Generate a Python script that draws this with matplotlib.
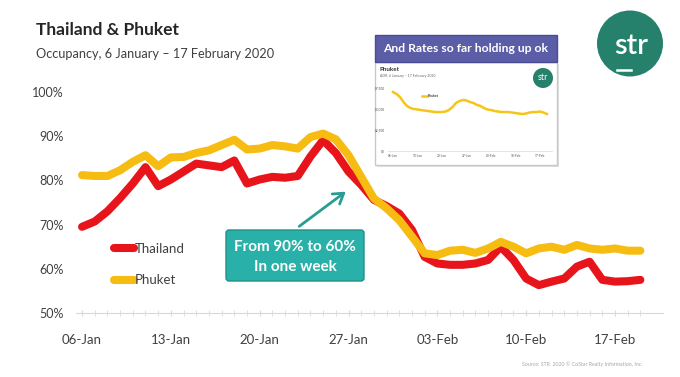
import numpy as np
import matplotlib.pyplot as plt
from matplotlib.patches import Rectangle, Circle, FancyBboxPatch

plt.rcParams['font.family'] = ['Lato', 'DejaVu Sans']

# daily occupancy (%), 6 Jan - 19 Feb 2020
thailand = [69.5, 70.7, 73.0, 76.0, 79.3, 83.0, 78.7, 80.2, 82.0, 83.8,
            83.4, 83.0, 84.5, 79.3, 80.2, 80.8, 80.6, 81.0, 85.4, 89.1,
            86.2, 82.0, 79.0, 75.6, 74.2, 72.5, 68.8, 62.7, 61.2, 60.9,
            60.9, 61.2, 62.0, 65.0, 62.0, 57.8, 56.3, 57.1, 57.8, 60.5,
            61.6, 57.5, 57.1, 57.2, 57.5]
phuket = [81.2, 81.0, 81.0, 82.3, 84.2, 85.7, 83.2, 85.2, 85.3, 86.2,
          86.8, 88.0, 89.2, 87.0, 87.2, 88.0, 87.7, 87.2, 89.8, 90.6,
          89.3, 85.7, 80.8, 75.9, 73.7, 71.0, 67.3, 63.5, 63.1, 64.1,
          64.3, 63.6, 64.6, 66.1, 65.0, 63.5, 64.6, 65.0, 64.3, 65.4,
          64.6, 64.3, 64.6, 64.1, 64.1]
# Phuket ADR shown in the small inset picture
phuket_adr = [7020, 6790, 6430, 5830, 5360, 5120, 5000, 4940, 4880, 4820,
              4760, 4700, 4640, 4640, 4640, 4700, 4880, 5240, 5710, 5950,
              6070, 6010, 5830, 5710, 5480, 5360, 5120, 4940, 4880, 4760,
              4700, 4640, 4640, 4640, 4580, 4520, 4460, 4400, 4460, 4580,
              4640, 4640, 4700, 4580, 4400]
week_pos = [0, 7, 14, 21, 28, 35, 42]
week_labels = ['06-Jan', '13-Jan', '20-Jan', '27-Jan', '03-Feb', '10-Feb', '17-Feb']
y_ticks = [50, 60, 70, 80, 90, 100]
adr_ticks = [0, 2500, 5000, 7500]
adr_labels = ['$0', '$2,500', '$5,000', '$7,500']

W, H = 680, 377
fig = plt.figure(figsize=(W / 100, H / 100), dpi=100)

# pixel-coordinate layer for the slide decorations
deco = fig.add_axes([0, 0, 1, 1], zorder=0)
deco.set_xlim(0, W)
deco.set_ylim(H, 0)
deco.axis('off')

days = np.arange(len(thailand))

ax = fig.add_axes([75.7 / W, 64 / H, 587.5 / W, 221 / H], zorder=2)
ax.patch.set_alpha(0)
ax.plot(days, thailand, color='#e8141b', lw=5.8, solid_capstyle='round',
        solid_joinstyle='round', label='Thailand')
ax.plot(days, phuket, color='#f7bc12', lw=5.8, solid_capstyle='round',
        solid_joinstyle='round', label='Phuket')
ax.set_xlim(-0.5, 45.8)
ax.set_ylim(50, 100)
ax.set_yticks(y_ticks, [f'{v}%' for v in y_ticks])
ax.set_xticks(week_pos, week_labels)
ax.set_xticks(days, minor=True)
for s in ['top', 'right', 'left']:
    ax.spines[s].set_visible(False)
ax.spines['bottom'].set_color('#d9d9d9')
ax.tick_params(axis='y', length=0, pad=8.5, labelsize=9, labelcolor='#404040')
ax.tick_params(axis='x', which='both', direction='inout', length=4,
               color='#d9d9d9', labelsize=9.5, labelcolor='#404040', pad=13)
ax.legend(loc='upper left', bbox_to_anchor=(114 / W, 1 - 243 / H),
          bbox_transform=fig.transFigure, frameon=False, handlelength=1.5,
          handletextpad=0.1, labelspacing=1.45, fontsize=9.5,
          borderpad=0, borderaxespad=0, labelcolor='#404040')

# titles
deco.text(36, 35, 'Thailand & Phuket', fontsize=12.5, fontweight='bold',
          color='#262626', va='baseline')
deco.text(36, 57.5, 'Occupancy, 6 January \u2013 17 February 2020', fontsize=9.2,
          color='#404040', va='baseline')

# callout
deco.add_patch(FancyBboxPatch((226, 230), 138, 51,
                              boxstyle='round,pad=0,rounding_size=3',
                              fc='#29b0a8', ec='#1f9189', lw=1))
deco.text(295, 247, 'From 90% to 60%', ha='center', va='center',
          color='white', fontsize=11, fontweight='bold')
deco.text(295, 267, 'In one week', ha='center', va='center',
          color='white', fontsize=11, fontweight='bold')
deco.annotate('', xy=(348, 190), xytext=(297, 228),
              arrowprops=dict(arrowstyle='->,head_length=0.7,head_width=0.45',
                              color='#2a9d92', lw=2))

# inset slide
deco.add_patch(Rectangle((377, 64), 182, 103, fc='#e2e2e2', ec='none'))
deco.add_patch(Rectangle((375, 62), 182, 103, fc='white', ec='#c8c8c8', lw=1))
deco.add_patch(Rectangle((375, 35), 182, 27, fc='#5b5ea6', ec='#4a4d94', lw=1))
deco.text(466, 48.5, 'And Rates so far holding up ok', ha='center', va='center',
          color='white', fontsize=8.7, fontweight='bold')
deco.text(380, 71, 'Phuket', fontsize=4.5, fontweight='bold', color='#333333',
          va='baseline')
deco.text(380, 77, 'ADR, 6 January \u2013 17 February 2020', fontsize=2.5,
          color='#666666', va='baseline')
deco.add_patch(Circle((543, 78), 10, fc='#25806c', ec='none'))
deco.text(543, 77, 'str', ha='center', va='center', color='white', fontsize=6.5)

mini = fig.add_axes([387.75 / W, 1 - 151 / H, 164.5 / W, 63 / H], zorder=3)
mini.patch.set_alpha(0)
mini.plot(days, phuket_adr, color='#f5c518', lw=1.8, label='Phuket')
mini.set_xlim(-1.5, 45.5)
mini.set_ylim(0, 7500)
mini.set_yticks(adr_ticks, adr_labels)
mini.set_xticks(week_pos, week_labels)
for s in ['top', 'right', 'left']:
    mini.spines[s].set_visible(False)
mini.spines['bottom'].set_color('#d9d9d9')
mini.spines['bottom'].set_linewidth(0.5)
mini.tick_params(length=0, labelsize=2.3, labelcolor='#555555', pad=2)
mini.legend(loc='upper left', bbox_to_anchor=(420 / W, 1 - 92 / H),
            bbox_transform=fig.transFigure, frameon=False, fontsize=2.5,
            handlelength=1.5, handletextpad=0.3, borderpad=0)

# logo
deco.add_patch(Circle((630, 43.5), 33, fc='#25806c', ec='none'))
deco.text(631, 46, 'str', ha='center', va='center', color='white', fontsize=21,
          fontweight='semibold')
deco.plot([617, 631], [70, 70], color='white', lw=1.8)

deco.text(643, 364, 'Source: STR. 2020 \u00a9 CoStar Realty Information, Inc.',
          ha='right', va='center', fontsize=3.8, color='#a6a6a6')

fig.savefig('out.png', dpi=100)
